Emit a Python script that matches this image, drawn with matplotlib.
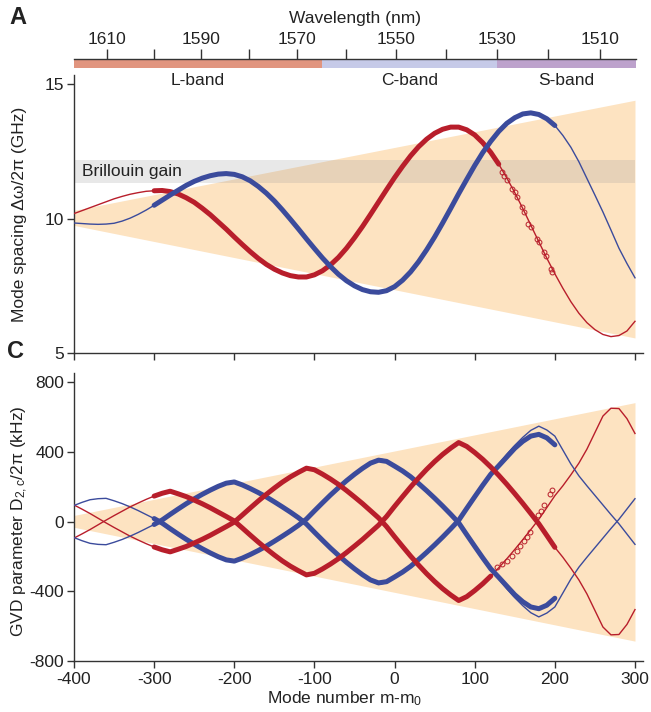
import numpy as np
import matplotlib.pyplot as plt

plt.rcParams['font.family'] = ['Liberation Sans', 'DejaVu Sans']
plt.rcParams['mathtext.fontset'] = 'custom'
plt.rcParams['mathtext.rm'] = 'Liberation Sans'
plt.rcParams['mathtext.it'] = 'Liberation Sans:italic'
plt.rcParams['axes.unicode_minus'] = False
plt.rcParams['axes.edgecolor'] = '#333333'
plt.rcParams['axes.linewidth'] = 1.0
plt.rcParams['xtick.color'] = '#333333'
plt.rcParams['ytick.color'] = '#333333'
plt.rcParams['xtick.labelcolor'] = '#222222'
plt.rcParams['ytick.labelcolor'] = '#222222'

RED = '#b81e2b'
BLUE = '#3b4b9c'
PEACH = '#fde3c1'

# ---- data -----------------------------------------------------------
# relative mode number m - m0, every 10 modes
modes = [-400, -390, -380, -370, -360, -350, -340, -330, -320, -310,
         -300, -290, -280, -270, -260, -250, -240, -230, -220, -210,
         -200, -190, -180, -170, -160, -150, -140, -130, -120, -110,
         -100, -90, -80, -70, -60, -50, -40, -30, -20, -10,
         0, 10, 20, 30, 40, 50, 60, 70, 80, 90,
         100, 110, 120, 130, 140, 150, 160, 170, 180, 190,
         200, 210, 220, 230, 240, 250, 260, 270, 280, 290, 300]

# mode spacing (GHz), simulated
spacing_red = [10.19, 10.30, 10.41, 10.52, 10.63, 10.74, 10.83, 10.91, 10.97, 11.02,
               11.04, 11.05, 11.01, 10.92, 10.78, 10.61, 10.39, 10.15, 9.88, 9.61,
               9.32, 9.04, 8.77, 8.52, 8.30, 8.12, 7.98, 7.88, 7.83, 7.83,
               7.91, 8.06, 8.28, 8.56, 8.90, 9.29, 9.71, 10.16, 10.62, 11.08,
               11.53, 11.95, 12.34, 12.68, 12.96, 13.18, 13.33, 13.41, 13.41, 13.31,
               13.12, 12.83, 12.47, 12.03, 11.52, 10.97, 10.38, 9.76, 9.14, 8.53,
               7.95, 7.41, 6.91, 6.48, 6.13, 5.87, 5.69, 5.61, 5.65, 5.82, 6.18]
spacing_blue = [9.84, 9.82, 9.80, 9.79, 9.80, 9.83, 9.91, 10.02, 10.16, 10.32,
                10.50, 10.69, 10.88, 11.06, 11.24, 11.39, 11.51, 11.60, 11.66, 11.68,
                11.65, 11.56, 11.41, 11.20, 10.95, 10.66, 10.33, 9.98, 9.62, 9.25,
                8.89, 8.54, 8.22, 7.93, 7.69, 7.50, 7.36, 7.28, 7.26, 7.32,
                7.47, 7.71, 8.02, 8.40, 8.84, 9.32, 9.84, 10.38, 10.93, 11.46,
                11.98, 12.46, 12.88, 13.25, 13.55, 13.76, 13.90, 13.94, 13.88, 13.72,
                13.47, 13.10, 12.66, 12.12, 11.50, 10.88, 10.25, 9.58, 8.90, 8.33, 7.80]

# measured traces follow the simulation over the tuning range
red_meas_range = (-300, 130)
blue_meas_range = (-300, 200)
spacing_red_pts_m = [134, 137, 140, 147, 150, 153, 159, 162, 167, 170, 178, 180, 187, 189, 195, 196]
spacing_red_pts = [11.74, 11.60, 11.43, 11.12, 10.98, 10.81, 10.43, 10.25, 9.81, 9.70,
                   9.25, 9.15, 8.75, 8.60, 8.13, 8.00]

# GVD parameter (kHz), simulated; the second branch is the mirror image
gvd_red = [95, 71, 46, 19, -8, -34, -59, -84, -106, -127,
           -146, -162, -174, -159, -143, -123, -102, -79, -54, -29,
           -3, 37, 78, 118, 156, 192, 226, 256, 282, 306,
           297, 272, 244, 213, 178, 141, 103, 62, 21, -29,
           -87, -143, -198, -250, -299, -344, -385, -421, -453, -431,
           -396, -357, -313, -265, -214, -160, -104, -46, 13, 80,
           148, 205, 268, 335, 415, 510, 605, 650, 648, 590, 505]
gvd_blue = [92, 110, 125, 131, 133, 119, 103, 84, 63, 40,
            17, -9, -41, -72, -102, -130, -156, -180, -202, -220,
            -227, -210, -189, -166, -141, -113, -84, -54, -22, 14,
            61, 107, 152, 194, 234, 271, 305, 335, 361, 351,
            323, 292, 257, 218, 177, 134, 89, 42, -7, -75,
            -142, -208, -271, -330, -386, -437, -483, -523, -547, -525,
            -490, -410, -330, -262, -205, -150, -95, -40, 13, 72, 131]

# GVD parameter (kHz), measured
gvd_blue_meas_m = modes[10:61]
gvd_blue_meas = [17, -9, -41, -72, -102, -130, -156, -180, -202, -220,
                 -227, -210, -189, -166, -141, -113, -84, -54, -22, 14,
                 61, 107, 152, 194, 234, 271, 305, 335, 352, 345,
                 318, 290, 257, 218, 177, 134, 89, 42, -7, -75,
                 -142, -208, -271, -320, -370, -420, -460, -490, -500, -480, -440]
gvd_red_meas_range = (-300, 200)
gvd_red_meas2_range = (-300, 120)
gvd_red_pts_m = [128, 134, 140, 146, 153, 157, 161, 165, 169, 179, 183, 186, 194, 196]
gvd_red_pts = [-263, -245, -225, -200, -167, -140, -110, -88, -61, 35, 60, 92, 160, 179]

# envelope of the oscillation and Brillouin gain window
wedge_m = [-400, 300]
spacing_lo = [9.75, 5.56]
spacing_hi = [10.31, 14.41]
gvd_lo = [-33, -686]
gvd_hi = [35, 682]
brillouin = (11.33, 12.20)

# telecom bands (nm) and wavelength ticks
band_names = ['L-band', 'C-band', 'S-band']
band_edges_nm = [1565, 1530]
band_colors = ['#e1957f', '#c6cae8', '#bda2cc']
wl_major = [1610, 1590, 1570, 1550, 1530, 1510]
wl_minor = [1600, 1580, 1560, 1540, 1520]

C_LIGHT = 299792.458   # nm * THz
F0 = C_LIGHT / 1550.1  # THz at m0
FSR = 0.02008          # THz


def nm_to_mode(nm):
    return (C_LIGHT / np.asarray(nm, dtype=float) - F0) / FSR


def span(x, y, lims):
    x = np.asarray(x)
    keep = (x >= lims[0]) & (x <= lims[1])
    return x[keep], np.asarray(y)[keep]


W, H = 651, 712


def fx(px):
    return px / W


def fy(py):
    return 1 - py / H


fig = plt.figure(figsize=(W / 100, H / 100), dpi=100)

axA = fig.add_axes([fx(74), fy(353), fx(643) - fx(74), fy(75) - fy(353)])
axC = fig.add_axes([fx(74), fy(661), fx(643) - fx(74), fy(373) - fy(661)])
axB = fig.add_axes([fx(74), fy(68.3), fx(636) - fx(74), fy(58.7) - fy(68.3)])

XMIN, XMAX = -400, 310
THICK = dict(lw=3.6, solid_capstyle='round', zorder=4)
THIN = dict(lw=1.0, zorder=3)

# ---- band bar with wavelength axis ----
edges = [-400] + list(nm_to_mode(band_edges_nm)) + [300]
for i, name in enumerate(band_names):
    axB.axvspan(edges[i], edges[i + 1], color=band_colors[i], lw=0)
    axB.text((edges[i] + edges[i + 1]) / 2, -1.25, name, transform=axB.get_xaxis_transform(),
             ha='center', va='center', fontsize=12.5, color='#222222')
axB.set_xlim(-400, 300)
axB.set_ylim(0, 1)
axB.set_yticks([])
for s in ['left', 'right', 'bottom']:
    axB.spines[s].set_visible(False)
axB.xaxis.tick_top()
axB.set_xticks(nm_to_mode(wl_major))
axB.set_xticklabels([str(w) for w in wl_major])
axB.set_xticks(nm_to_mode(wl_minor), minor=True)
axB.tick_params(axis='x', which='both', direction='out', length=7, width=1, pad=1.5, labelsize=12.5)
fig.text(fx(355), fy(18), 'Wavelength (nm)', ha='center', va='center', fontsize=12.5, color='#222222')

# ---- panel A: mode spacing ----
axA.fill_between(wedge_m, spacing_lo, spacing_hi, color=PEACH, lw=0, zorder=1)
axA.fill_between(wedge_m, brillouin[0], brillouin[1], color='#9a9a9a', alpha=0.22, lw=0, zorder=2)
axA.text(-390, np.mean(brillouin), 'Brillouin gain', ha='left', va='center', fontsize=12.5,
         color='#222222', zorder=5)
axA.plot(modes, spacing_red, color=RED, **THIN)
axA.plot(modes, spacing_blue, color=BLUE, **THIN)
axA.plot(*span(modes, spacing_red, red_meas_range), color=RED, **THICK)
axA.plot(*span(modes, spacing_blue, blue_meas_range), color=BLUE, **THICK)
axA.plot(spacing_red_pts_m, spacing_red_pts, 'o', ms=3.5, mfc='none', mec=RED, mew=0.7, zorder=4)
axA.set_xlim(XMIN, XMAX)
axA.set_ylim(5, 15.35)
axA.set_yticks([5, 10, 15])
axA.set_xticks([-400, -300, -200, -100, 0, 100, 200, 300])
axA.tick_params(axis='x', labelbottom=False, length=5, width=1)
axA.tick_params(axis='y', length=5, width=1, pad=2, labelsize=12.5)
axA.spines['top'].set_visible(False)
axA.spines['right'].set_visible(False)
fig.text(fx(20), fy(214), 'Mode spacing Δω/2π (GHz)', rotation=90, ha='center', va='center',
         fontsize=12.5, color='#222222')

# ---- panel C: GVD ----
axC.fill_between(wedge_m, gvd_lo, gvd_hi, color=PEACH, lw=0, zorder=1)
for sign in (1, -1):
    axC.plot(modes, sign * np.array(gvd_red), color=RED, **THIN)
    axC.plot(modes, sign * np.array(gvd_blue), color=BLUE, **THIN)
    axC.plot(gvd_blue_meas_m, sign * np.array(gvd_blue_meas), color=BLUE, **THICK)
m_r, v_r = span(modes, gvd_red, gvd_red_meas_range)
axC.plot(m_r, -v_r, color=RED, **THICK)
axC.plot(*span(modes, gvd_red, gvd_red_meas2_range), color=RED, **THICK)
axC.plot(gvd_red_pts_m, gvd_red_pts, 'o', ms=3.5, mfc='none', mec=RED, mew=0.7, zorder=4)
axC.set_xlim(XMIN, XMAX)
axC.set_ylim(-800, 852)
axC.set_yticks([-800, -400, 0, 400, 800])
axC.set_xticks([-400, -300, -200, -100, 0, 100, 200, 300])
axC.tick_params(axis='x', length=5, width=1, pad=3, labelsize=12.5)
axC.tick_params(axis='y', length=5, width=1, pad=2, labelsize=12.5)
axC.spines['top'].set_visible(False)
axC.spines['right'].set_visible(False)
fig.text(fx(20), fy(521), r'GVD parameter D$_{\mathregular{2,c}}$/2π (kHz)', rotation=90,
         ha='center', va='center', fontsize=12.5, color='#222222')
fig.text(fx(345), fy(699), r'Mode number m-m$_{\mathregular{0}}$', ha='center', va='center',
         fontsize=12.5, color='#222222')

# panel letters
fig.text(fx(9), fy(18), 'A', ha='left', va='center', fontsize=17, fontweight='bold', color='#222222')
fig.text(fx(7), fy(352), 'C', ha='left', va='center', fontsize=17, fontweight='bold', color='#222222')

fig.savefig('out.png', dpi=100)
